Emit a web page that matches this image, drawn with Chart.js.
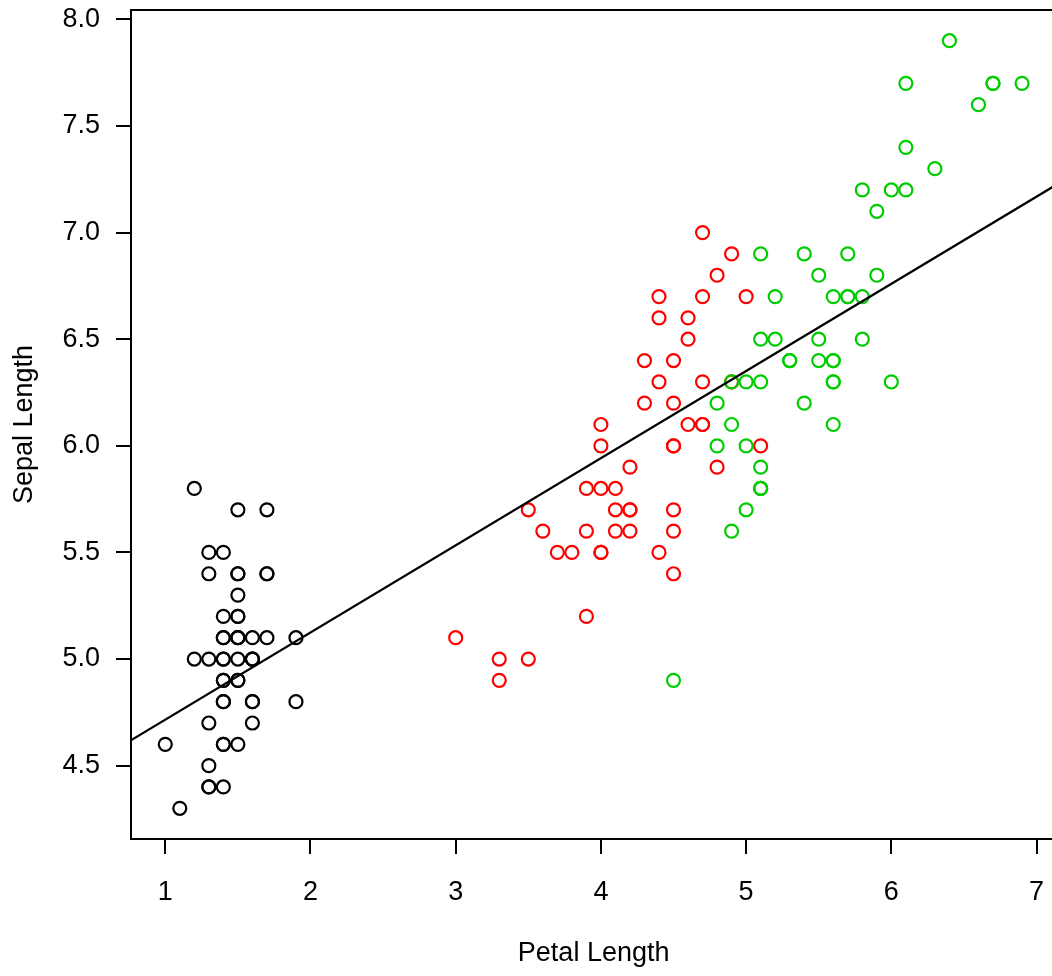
<!DOCTYPE html>
<html>
<head>
<meta charset="utf-8">
<script src="https://cdn.jsdelivr.net/npm/chart.js@4"></script>
<style>
html, body { margin: 0; padding: 0; overflow: hidden; background: #fff; }
#wrap { width: 1065px; height: 976px; }
</style>
</head>
<body>
<div id="wrap"><canvas id="c" width="1065" height="976"></canvas></div>
<script>
// Iris data: petal length (x) vs sepal length (y)
const setosaPetal = [1.4,1.4,1.3,1.5,1.4,1.7,1.4,1.5,1.4,1.5,1.5,1.6,1.4,1.1,1.2,1.5,1.3,1.4,1.7,1.5,1.7,1.5,1.0,1.7,1.9,1.6,1.6,1.5,1.4,1.6,1.6,1.5,1.5,1.4,1.5,1.2,1.3,1.4,1.3,1.5,1.3,1.3,1.3,1.6,1.9,1.4,1.6,1.4,1.5,1.4];
const setosaSepal = [5.1,4.9,4.7,4.6,5.0,5.4,4.6,5.0,4.4,4.9,5.4,4.8,4.8,4.3,5.8,5.7,5.4,5.1,5.7,5.1,5.4,5.1,4.6,5.1,4.8,5.0,5.0,5.2,5.2,4.7,4.8,5.4,5.2,5.5,4.9,5.0,5.5,4.9,4.4,5.1,5.0,4.5,4.4,5.0,5.1,4.8,5.1,4.6,5.3,5.0];
const versicolorPetal = [4.7,4.5,4.9,4.0,4.6,4.5,4.7,3.3,4.6,3.9,3.5,4.2,4.0,4.7,3.6,4.4,4.5,4.1,4.5,3.9,4.8,4.0,4.9,4.7,4.3,4.4,4.8,5.0,4.5,3.5,3.8,3.7,3.9,5.1,4.5,4.5,4.7,4.4,4.1,4.0,4.4,4.6,4.0,3.3,4.2,4.2,4.2,4.3,3.0,4.1];
const versicolorSepal = [7.0,6.4,6.9,5.5,6.5,5.7,6.3,4.9,6.6,5.2,5.0,5.9,6.0,6.1,5.6,6.7,5.6,5.8,6.2,5.6,5.9,6.1,6.3,6.1,6.4,6.6,6.8,6.7,6.0,5.7,5.5,5.5,5.8,6.0,5.4,6.0,6.7,6.3,5.6,5.5,5.5,6.1,5.8,5.0,5.6,5.7,5.7,6.2,5.1,5.7];
const virginicaPetal = [6.0,5.1,5.9,5.6,5.8,6.6,4.5,6.3,5.8,6.1,5.1,5.3,5.5,5.0,5.1,5.3,5.5,6.7,6.9,5.0,5.7,4.9,6.7,4.9,5.7,6.0,4.8,4.9,5.6,5.8,6.1,6.4,5.6,5.1,5.6,6.1,5.6,5.5,4.8,5.4,5.6,5.1,5.1,5.9,5.7,5.2,5.0,5.2,5.4,5.1];
const virginicaSepal = [6.3,5.8,7.1,6.3,6.5,7.6,4.9,7.3,6.7,7.2,6.5,6.4,6.8,5.7,5.8,6.4,6.5,7.7,7.7,6.0,6.9,5.6,7.7,6.3,6.7,7.2,6.2,6.1,6.4,7.2,7.4,7.9,6.4,6.3,6.1,7.7,6.3,6.4,6.0,6.9,6.7,6.9,5.8,6.8,6.7,6.7,6.3,6.5,6.2,5.9];
// Fitted line (at its ends)
const fitX = [0.5, 7.5];
const fitY = [4.511, 7.373];
// Axis ticks and ranges
const xTicks = [1, 2, 3, 4, 5, 6, 7];
const yTicks = [4.5, 5.0, 5.5, 6.0, 6.5, 7.0, 7.5, 8.0];
const xRange = [0.764, 7.136];
const yRange = [4.156, 8.044];

const pts = (xs, ys) => xs.map((x, i) => ({ x: x, y: ys[i] }));
const FONT = { family: "'Liberation Sans', Arial, Helvetica, sans-serif", size: 27 };

const boxTop = {
  id: 'boxTop',
  afterDraw(chart) {
    const a = chart.chartArea, ctx = chart.ctx;
    ctx.save();
    ctx.strokeStyle = '#000';
    ctx.lineWidth = 2;
    ctx.beginPath();
    ctx.moveTo(a.left - 1, a.top);
    ctx.lineTo(a.right + 1, a.top);
    ctx.stroke();
    ctx.restore();
  }
};

const pointStyle = (color) => ({
  type: 'scatter',
  pointStyle: 'circle',
  pointRadius: 6.5,
  pointBorderWidth: 2.2,
  pointBackgroundColor: 'rgba(0,0,0,0)',
  pointBorderColor: color,
  borderColor: color,
  backgroundColor: 'rgba(0,0,0,0)',
  showLine: false
});

const zeroPad = (s) => { s.paddingTop = 0; s.paddingBottom = 0; s.paddingLeft = 0; s.paddingRight = 0; };

new Chart(document.getElementById('c'), {
  data: {
    datasets: [
      {
        type: 'line',
        label: 'fit',
        data: pts(fitX, fitY),
        borderColor: '#000',
        borderWidth: 2.2,
        pointRadius: 0,
        fill: false,
        order: 0
      },
      Object.assign({ label: 'setosa', data: pts(setosaPetal, setosaSepal), order: 3 }, pointStyle('#000000')),
      Object.assign({ label: 'versicolor', data: pts(versicolorPetal, versicolorSepal), order: 2 }, pointStyle('#FF0000')),
      Object.assign({ label: 'virginica', data: pts(virginicaPetal, virginicaSepal), order: 1 }, pointStyle('#00CD00'))
    ]
  },
  options: {
    responsive: false,
    animation: false,
    events: [],
    layout: { padding: { top: 10, right: 0, left: 0, bottom: 0 } },
    plugins: { legend: { display: false }, tooltip: { enabled: false } },
    scales: {
      x: {
        type: 'linear',
        position: 'bottom',
        min: xRange[0],
        max: xRange[1],
        afterBuildTicks: (s) => { s.ticks = xTicks.map(v => ({ value: v })); },
        afterFit: (s) => { s.height = 137; zeroPad(s); },
        ticks: {
          color: '#000',
          font: FONT,
          padding: 22,
          maxRotation: 0,
          autoSkip: false,
          callback: (v) => String(v)
        },
        grid: { display: true, drawOnChartArea: false, drawTicks: true, tickLength: 15, color: '#000', lineWidth: 2 },
        border: { display: true, color: '#000', width: 2 },
        title: { display: true, text: 'Petal Length', color: '#000', font: FONT, padding: { top: 0, bottom: 6 } }
      },
      y: {
        type: 'linear',
        position: 'left',
        min: yRange[0],
        max: yRange[1],
        afterBuildTicks: (s) => { s.ticks = yTicks.map(v => ({ value: v })); },
        afterFit: (s) => { s.width = 131; zeroPad(s); },
        ticks: {
          color: '#000',
          font: FONT,
          padding: 16,
          autoSkip: false,
          callback: (v) => Number(v).toFixed(1)
        },
        grid: { display: true, drawOnChartArea: false, drawTicks: true, tickLength: 15, color: '#000', lineWidth: 2 },
        border: { display: true, color: '#000', width: 2 },
        title: { display: true, text: 'Sepal Length', color: '#000', font: FONT, padding: { top: 8, bottom: 0 } }
      }
    }
  },
  plugins: [boxTop]
});
</script>
</body>
</html>
